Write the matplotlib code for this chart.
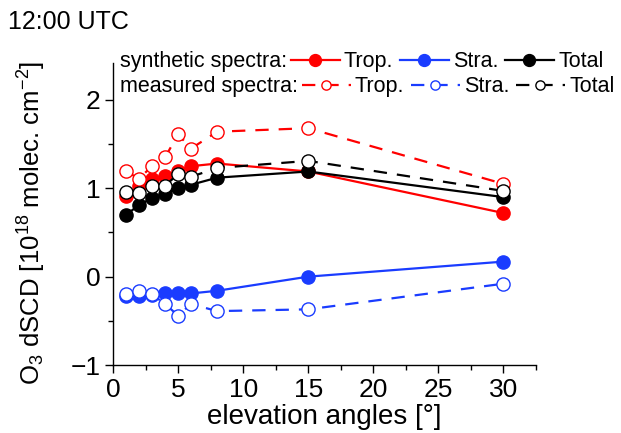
import numpy as np
import matplotlib
matplotlib.use("Agg")
import matplotlib.pyplot as plt
from matplotlib.ticker import MultipleLocator

plt.rcParams['font.family'] = ['Liberation Sans', 'DejaVu Sans']
plt.rcParams['mathtext.fontset'] = 'custom'
plt.rcParams['mathtext.rm'] = 'Liberation Sans'
plt.rcParams['mathtext.it'] = 'Liberation Sans:italic'

# elevation angles (deg)
elev = [1, 2, 3, 4, 5, 6, 8, 15, 30]

# synthetic spectra
syn_trop = [0.91, 1.03, 1.10, 1.14, 1.20, 1.25, 1.28, 1.19, 0.72]
syn_stra = [-0.22, -0.22, -0.21, -0.19, -0.19, -0.19, -0.16, 0.00, 0.17]
syn_total = [0.70, 0.81, 0.89, 0.94, 1.00, 1.04, 1.12, 1.19, 0.90]

# measured spectra
mea_trop = [1.19, 1.11, 1.25, 1.35, 1.61, 1.45, 1.64, 1.68, 1.05]
mea_stra = [-0.20, -0.16, -0.20, -0.31, -0.44, -0.31, -0.39, -0.37, -0.08]
mea_total = [0.96, 0.95, 1.03, 1.03, 1.16, 1.13, 1.23, 1.31, 0.97]

RED = '#ff0000'
BLUE = '#1a3cff'
BLACK = '#000000'

fig = plt.figure(figsize=(6.21, 4.33), dpi=100)
ax = fig.add_axes([0.182, 0.157, 0.681, 0.698])

ms = 9.5
lw = 1.6
dash = (6, 4.5)

syn = [(syn_trop, RED), (syn_stra, BLUE), (syn_total, BLACK)]
mea = [(mea_trop, RED), (mea_stra, BLUE), (mea_total, BLACK)]

syn_handles = []
for vals, c in syn:
    h, = ax.plot(elev, vals, '-o', color=c, lw=lw, ms=ms, mfc=c, mec=c, zorder=3)
    syn_handles.append(h)

mea_handles = []
for vals, c in mea:
    h, = ax.plot(elev, vals, '--o', color=c, lw=lw, ms=ms, mfc='white', mec=c,
                 mew=1.0, dashes=dash, zorder=4)
    mea_handles.append(h)

ax.set_xlim(0, 32.5)
ax.set_ylim(-1, 2.42)
ax.xaxis.set_major_locator(MultipleLocator(5))
ax.xaxis.set_minor_locator(MultipleLocator(2.5))
ax.yaxis.set_major_locator(MultipleLocator(1))
ax.yaxis.set_minor_locator(MultipleLocator(0.5))
ax.tick_params(which='both', direction='out', width=1.0, labelsize=19)
ax.tick_params(axis='y', pad=3)
ax.tick_params(axis='x', pad=3)
ax.tick_params(which='major', length=6)
ax.tick_params(which='minor', length=3.5)
ax.spines['top'].set_visible(False)
ax.spines['right'].set_visible(False)
for s in ('left', 'bottom'):
    ax.spines[s].set_linewidth(1.0)

ax.set_xlabel('elevation angles [°]', fontsize=20)
ax.set_ylabel('O$_3$ dSCD [10$^{18}$ molec. cm$^{-2}$]', fontsize=18.5)
ax.xaxis.set_label_coords(0.5, -0.13)
ax.yaxis.set_label_coords(-0.153, 0.47)

fig.text(8 / 621, 0.949, '12:00 UTC', fontsize=18, va='center', ha='left')

# two-row legend: a text label followed by three entries per row
labels = ['Trop.', 'Stra.', 'Total']
leg_kw = dict(ncol=3, loc='center left', frameon=False, fontsize=15.5,
              handlelength=2.28, handletextpad=0.19, columnspacing=0.3,
              borderpad=0, borderaxespad=0)
ax.text(0.017, 1.003, 'synthetic spectra:', transform=ax.transAxes,
        fontsize=15.5, va='center', ha='left')
ax.text(0.017, 0.92, 'measured spectra:', transform=ax.transAxes,
        fontsize=15.5, va='center', ha='left')

leg1 = ax.legend(syn_handles, labels, bbox_to_anchor=(0.42, 1.003),
                 markerscale=0.9, **leg_kw)
ax.add_artist(leg1)
ax.legend(mea_handles, labels, bbox_to_anchor=(0.446, 0.92),
          markerscale=0.7, **leg_kw)

fig.savefig('out.png', dpi=100)
